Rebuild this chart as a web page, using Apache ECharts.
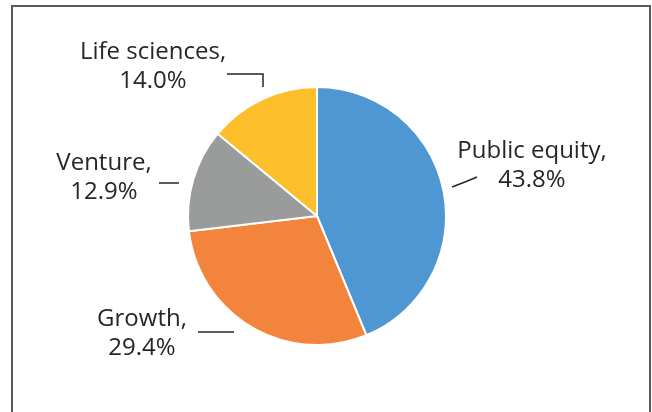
<!DOCTYPE html>
<html>
<head>
<meta charset="utf-8">
<script src="https://cdn.jsdelivr.net/npm/echarts@6/dist/echarts.min.js"></script>
<style>
  html, body { margin: 0; padding: 0; background: #fff; }
  #chart { width: 652px; height: 412px; }
</style>
</head>
<body>
<div id="chart"></div>
<script>
// pie data, clockwise from 12 o'clock
const categories = ['Public equity', 'Growth', 'Venture', 'Life sciences']
const shares = [43.8, 29.4, 12.9, 14.0]
const colors = ['#4f97d2', '#f3843c', '#9a9c9b', '#fdbe2b']

// where each label sits and how its leader line runs (pie side first)
const labelSpots = {
  'Public equity': { x: 532, y: 166, line: [[452, 187], [465, 182], [477, 177]] },
  'Growth': { x: 142, y: 334, line: [[234, 332], [216, 332], [198, 332]] },
  'Venture': { x: 104, y: 178, line: [[179, 183], [169, 183], [159, 183]] },
  'Life sciences': { x: 153, y: 67, line: [[263, 87], [263, 74], [227, 74]] },
}

const chart = echarts.init(document.getElementById('chart'))

let option = {
  animation: false,
  graphic: [{
    type: 'rect',
    shape: { x: 12, y: 6, width: 638, height: 430 },
    style: { fill: 'none', stroke: '#5a5a5a', lineWidth: 2 },
    z: 0,
  }],
  series: [{
    type: 'pie',
    center: [317, 216],
    radius: 129,
    startAngle: 90,
    clockwise: true,
    color: colors,
    itemStyle: { borderColor: '#fff', borderWidth: 2 },
    label: {
      show: true,
      position: 'outside',
      fontFamily: 'Open Sans',
      fontSize: 24,
      lineHeight: 29,
      color: '#262626',
      align: 'center',
      overflow: 'none',
      formatter: (p) => p.name + ',\n' + p.value.toFixed(1) + '%',
    },
    labelLine: {
      show: true,
      lineStyle: { color: '#262626', width: 1.5 },
    },
    labelLayout: (params) => {
      const spot = labelSpots[categories[params.dataIndex]]
      return {
        x: spot.x,
        y: spot.y,
        align: 'center',
        verticalAlign: 'middle',
        labelLinePoints: spot.line,
      }
    },
    data: categories.map((name, i) => ({ name: name, value: shares[i] })),
  }],
}

chart.setOption(option)
</script>
</body>
</html>
